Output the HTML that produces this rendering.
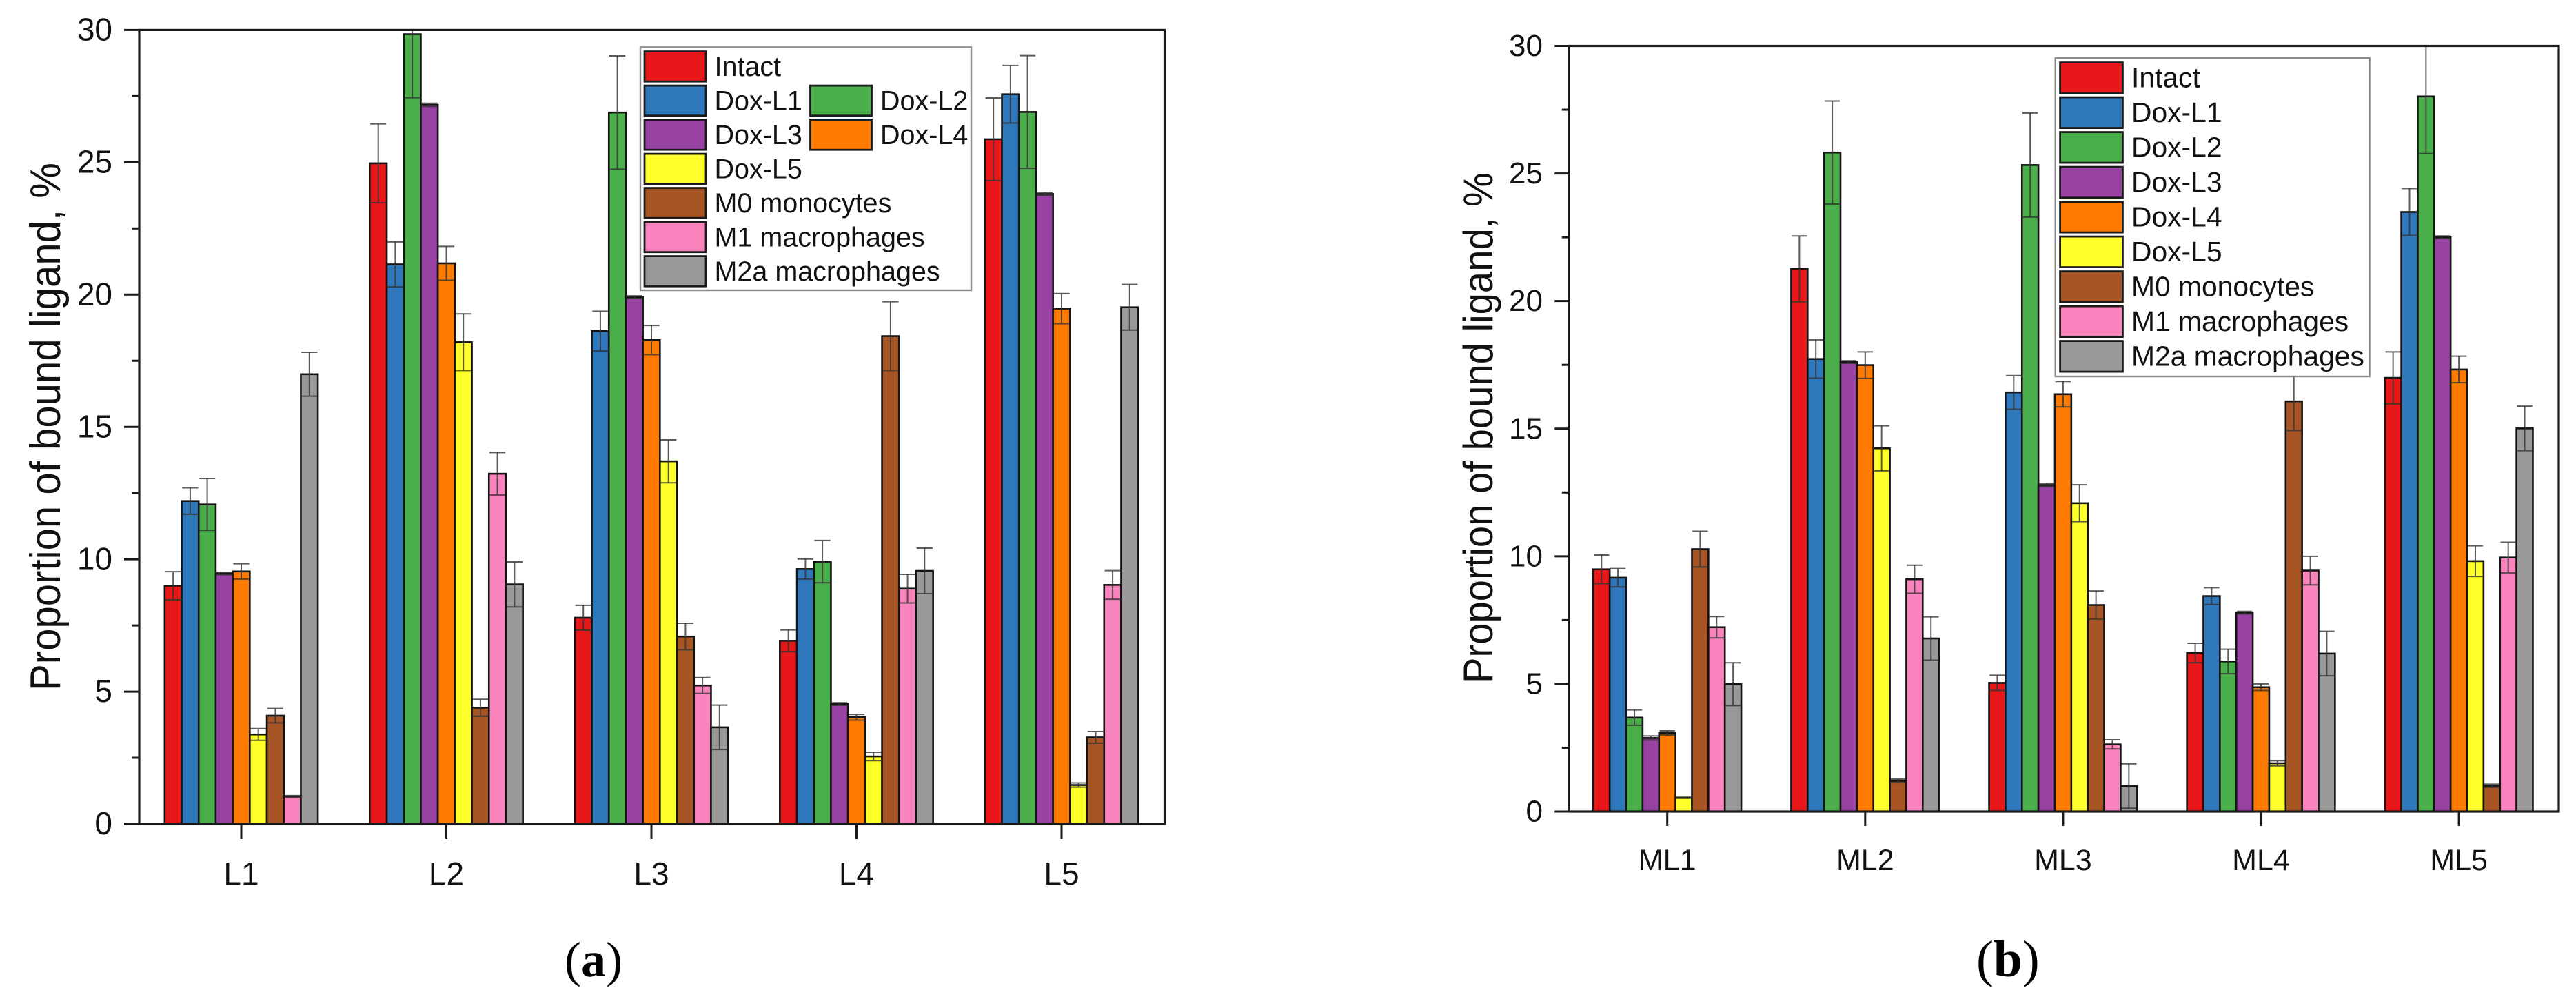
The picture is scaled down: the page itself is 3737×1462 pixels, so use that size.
<!DOCTYPE html>
<html lang="en">
<head>
<meta charset="utf-8">
<title>Proportion of bound ligand</title>
<style>
html,body{margin:0;padding:0;background:#fff;width:3737px;height:1462px;overflow:hidden}
svg{display:block}
text{font-family:"Liberation Sans",Arial,sans-serif;fill:#111}
.cap{font-family:"Liberation Serif",serif;fill:#000}
</style>
</head>
<body>
<svg id="figure" xmlns="http://www.w3.org/2000/svg" width="3737" height="1462" viewBox="0 0 3737 1462">
  <rect x="0" y="0" width="3737" height="1462" fill="#ffffff"/>
  <g id="chart-a"></g>
  <g id="chart-b"></g>
  <text class="cap" x="819" y="1416" font-size="72">(<tspan font-weight="bold">a</tspan>)</text>
  <text class="cap" x="2867" y="1416" font-size="75">(<tspan font-weight="bold">b</tspan>)</text>
</svg>
<script>
// Shared labels
const seriesNames = ["Intact","Dox-L1","Dox-L2","Dox-L3","Dox-L4","Dox-L5","M0 monocytes","M1 macrophages","M2a macrophages"];
const seriesColors = ["#e8181a","#2f78bc","#4aae4a","#9842a3","#ff7a00","#ffff2a","#a85525","#f983bd","#999999"];
const yTickLabels = [0,5,10,15,20,25,30];
const yMinorTicks = [2.5,7.5,12.5,17.5,22.5,27.5];

// Chart (a) data
const categoriesA = ["L1","L2","L3","L4","L5"];
const intactA = [9.0,24.96,7.79,6.92,25.87];
const doxL1A = [12.2,21.14,18.62,9.63,27.57];
const doxL2A = [12.07,29.84,26.88,9.91,26.9];
const doxL3A = [9.46,27.17,19.9,4.53,23.8];
const doxL4A = [9.54,21.18,18.28,4.03,19.47];
const doxL5A = [3.38,18.2,13.7,2.55,1.47];
const m0A = [4.09,4.39,7.08,18.43,3.27];
const m1A = [1.04,13.23,5.23,8.89,9.03];
const m2aA = [16.99,9.05,3.65,9.56,19.52];
const intactErrA = [0.53,1.49,0.47,0.41,1.56];
const doxL1ErrA = [0.5,0.85,0.75,0.38,1.09];
const doxL2ErrA = [0.98,2.4,2.14,0.8,2.13];
const doxL3ErrA = [0.05,0.06,0.05,0.05,0.06];
const doxL4ErrA = [0.29,0.64,0.55,0.11,0.57];
const doxL5ErrA = [0.22,1.07,0.81,0.16,0.08];
const m0ErrA = [0.27,0.32,0.5,1.3,0.22];
const m1ErrA = [0.03,0.8,0.3,0.54,0.54];
const m2aErrA = [0.83,0.85,0.84,0.86,0.86];

// Chart (b) data
const categoriesB = ["ML1","ML2","ML3","ML4","ML5"];
const intactB = [9.49,21.26,5.04,6.21,16.99];
const doxL1B = [9.16,17.73,16.42,8.44,23.49];
const doxL2B = [3.68,25.82,25.33,5.88,28.02];
const doxL3B = [2.88,17.61,12.79,7.79,22.5];
const doxL4B = [3.08,17.49,16.35,4.87,17.32];
const doxL5B = [0.54,14.23,12.08,1.89,9.81];
const m0B = [10.28,1.2,8.09,16.07,1.01];
const m1B = [7.22,9.1,2.63,9.44,9.95];
const m2aB = [4.99,6.78,1.0,6.19,15.01];
const intactErrB = [0.56,1.29,0.3,0.38,1.02];
const doxL1ErrB = [0.36,0.75,0.66,0.33,0.92];
const doxL2ErrB = [0.3,2.02,2.04,0.48,2.24];
const doxL3ErrB = [0.08,0.05,0.06,0.05,0.05];
const doxL4ErrB = [0.08,0.52,0.5,0.13,0.52];
const doxL5ErrB = [0.02,0.88,0.72,0.1,0.6];
const m0ErrB = [0.7,0.07,0.55,1.14,0.06];
const m1ErrB = [0.42,0.55,0.18,0.56,0.6];
const m2aErrB = [0.84,0.85,0.87,0.87,0.87];

// Legend arrangement: indices of series per row
const legendRowsA = [[0],[1,2],[3,4],[5],[6],[7],[8]];
const legendRowsB = [[0],[1],[2],[3],[4],[5],[6],[7],[8]];

const valuesAllA = [intactA,doxL1A,doxL2A,doxL3A,doxL4A,doxL5A,m0A,m1A,m2aA];
const errorsAllA = [intactErrA,doxL1ErrA,doxL2ErrA,doxL3ErrA,doxL4ErrA,doxL5ErrA,m0ErrA,m1ErrA,m2aErrA];
const valuesAllB = [intactB,doxL1B,doxL2B,doxL3B,doxL4B,doxL5B,m0B,m1B,m2aB];
const errorsAllB = [intactErrB,doxL1ErrB,doxL2ErrB,doxL3ErrB,doxL4ErrB,doxL5ErrB,m0ErrB,m1ErrB,m2aErrB];

const NS = "http://www.w3.org/2000/svg";
function mk(parent, tag, attrs, txt) {
  const el = document.createElementNS(NS, tag);
  for (const k in attrs) el.setAttribute(k, attrs[k]);
  if (txt !== undefined) el.textContent = txt;
  parent.appendChild(el);
  return el;
}

function drawChart(root, cfg) {
  const yScale = v => cfg.y0 - (v / 30) * (cfg.y0 - cfg.y30);
  const xCenter = i => cfg.x0 + cfg.groupStep * i;
  const xBar = (i, s) => xCenter(i) + (s - seriesNames.length / 2) * cfg.barW;

  const clipId = "clip-" + cfg.id;
  const defs = mk(root, "defs", {});
  const cp = mk(defs, "clipPath", {id: clipId});
  mk(cp, "rect", {x: cfg.left, y: cfg.y30, width: cfg.right - cfg.left, height: cfg.y0 - cfg.y30});

  // bars
  cfg.values.forEach((vals, s) => {
    vals.forEach((v, i) => {
      const y = yScale(v);
      const bar = mk(root, "rect", {x: xBar(i, s), y: y, width: cfg.barW, height: cfg.y0 - y, fill: seriesColors[s], stroke: "#141414", "stroke-width": 2.6});
      
      
    });
  });

  // error bars
  const errGroup = mk(root, "g", {"clip-path": "url(#" + clipId + ")", stroke: "#333", "stroke-width": 2, "stroke-opacity": 0.8, fill: "none"});
  
  
  cfg.values.forEach((vals, s) => {
    vals.forEach((v, i) => {
      const e = cfg.errors[s][i];
      const xc = xBar(i, s) + cfg.barW / 2;
      const hi = yScale(v + e), lo = yScale(v - e);
      const capHalf = cfg.barW * 0.47;
      const stem = mk(errGroup, "line", {x1: xc, x2: xc, y1: hi, y2: lo});
      
      
      const capTop = mk(errGroup, "line", {x1: xc - capHalf, x2: xc + capHalf, y1: hi, y2: hi});
      
      
      const capLow = mk(errGroup, "line", {x1: xc - capHalf, x2: xc + capHalf, y1: lo, y2: lo});
      
      
    });
  });

  // axes frame
  const frame = mk(root, "rect", {x: cfg.left, y: cfg.y30, width: cfg.right - cfg.left, height: cfg.y0 - cfg.y30, fill: "none", stroke: "#1a1a1a", "stroke-width": 3.2});
  
  

  // y ticks
  yTickLabels.forEach(t => {
    const y = yScale(t);
    const tk = mk(root, "line", {x1: cfg.left - cfg.tickLen, x2: cfg.left, y1: y, y2: y, stroke: "#1a1a1a", "stroke-width": 3});
    
    
    const lb = mk(root, "text", {x: cfg.yLabelX, y: y + cfg.tickFont * 0.33, "text-anchor": "end", "font-size": cfg.tickFont}, String(t));
    
    
  });
  yMinorTicks.forEach(t => {
    const y = yScale(t);
    const tk = mk(root, "line", {x1: cfg.left - cfg.tickLen / 2, x2: cfg.left, y1: y, y2: y, stroke: "#1a1a1a", "stroke-width": 3});
    
    
  });

  // x ticks
  cfg.categories.forEach((c, i) => {
    const x = xCenter(i);
    const tk = mk(root, "line", {x1: x, x2: x, y1: cfg.y0, y2: cfg.y0 + cfg.tickLen, stroke: "#1a1a1a", "stroke-width": 3});
    
    
    const lb = mk(root, "text", {x: x, y: cfg.xLabelY, "text-anchor": "middle", "font-size": cfg.xFont}, c);
    
    
  });

  // y title
  const title = mk(root, "text", {
    transform: "translate(" + cfg.titleX + "," + cfg.titleY + ") rotate(-90)",
    "font-size": cfg.titleFont, textLength: cfg.titleLen, lengthAdjust: "spacingAndGlyphs"
  }, "Proportion of bound ligand, %");
  
  

  // legend
  const lg = cfg.legend;
  const lgGroup = mk(root, "g", {});
  
  
  const box = mk(lgGroup, "rect", {x: lg.x, y: lg.y, width: lg.w, height: lg.h, fill: "#fff", stroke: "#8a8a8a", "stroke-width": 2.4});
  
  
  cfg.legendRows.forEach((row, r) => {
    row.forEach((s, c) => {
      const sx = lg.swatchX[c];
      const sy = lg.firstY + r * lg.step;
      const sw = mk(lgGroup, "rect", {x: sx, y: sy, width: lg.swatchW, height: lg.swatchH, fill: seriesColors[s], stroke: "#1a1a1a", "stroke-width": 2.8});
      
      
      const tx = mk(lgGroup, "text", {x: lg.labelX[c], y: lg.firstBase + r * lg.step, "font-size": lg.font}, seriesNames[s]);
      
      
    });
  });
}

drawChart(document.getElementById("chart-a"), {
  id: "a", categories: categoriesA, values: valuesAllA, errors: errorsAllA, legendRows: legendRowsA,
  left: 202, right: 1689.5, y0: 1195, y30: 43.4, x0: 350, groupStep: 297.5, barW: 24.7,
  tickLen: 22, yLabelX: 163, tickFont: 46, xFont: 46, xLabelY: 1283,
  titleX: 87, titleY: 1002, titleFont: 62, titleLen: 766,
  legend: {x: 929, y: 68.4, w: 480, h: 352.6, swatchX: [935, 1175.5], swatchW: 89, swatchH: 43.6, firstY: 74.6, step: 49.5,
           labelX: [1036.5, 1277], firstBase: 110, font: 39.5}
});

drawChart(document.getElementById("chart-b"), {
  id: "b", categories: categoriesB, values: valuesAllB, errors: errorsAllB, legendRows: legendRowsB,
  left: 2276.3, right: 3712, y0: 1177, y30: 66.5, x0: 2418.7, groupStep: 287.1, barW: 23.86,
  tickLen: 21, yLabelX: 2238, tickFont: 44, xFont: 43, xLabelY: 1262,
  titleX: 2165, titleY: 991, titleFont: 60, titleLen: 741,
  legend: {x: 2981.7, y: 84, w: 455.9, h: 462, swatchX: [2988.6], swatchW: 90.8, swatchH: 44.5, firstY: 90.6, step: 50.5,
           labelX: [3092], firstBase: 126.5, font: 40.8}
});
</script>
</body>
</html>
